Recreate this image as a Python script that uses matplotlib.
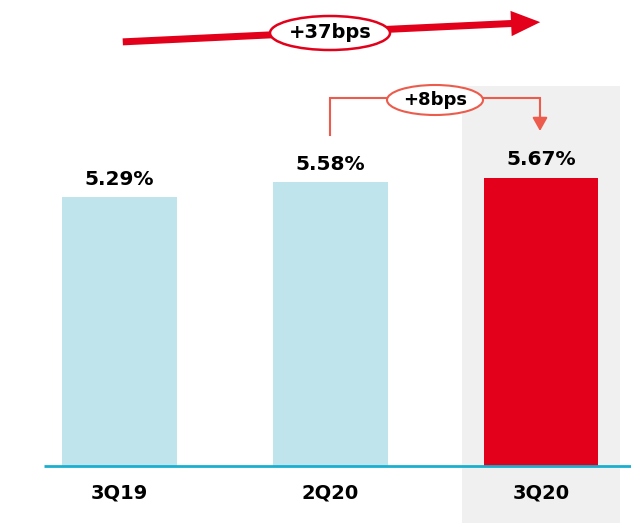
import matplotlib
matplotlib.use("Agg")
import matplotlib.pyplot as plt
from matplotlib.patches import Ellipse, Rectangle, FancyArrowPatch

categories = ["3Q19", "2Q20", "3Q20"]
values = [5.29, 5.58, 5.67]
value_labels = ["5.29%", "5.58%", "5.67%"]
change_total = "+37bps"
change_qoq = "+8bps"

RED = "#E2001A"
BLUE = "#C0E4EC"
GRAY = "#F0F0F0"
LINE = "#1AAFCF"
SALMON = "#EC5B4B"
TXT = "#000000"

fig = plt.figure(figsize=(6.31, 5.23), dpi=100)
ax = fig.add_axes([0, 0, 1, 1])
px_x = 210.75
px_y = 50.85
ax.set_xlim(-119.5 / px_x, 2 + (631 - 541) / px_x)
ax.set_ylim(-(523 - 466) / px_y, 466 / px_y)
ax.axis("off")

def dx(p):
    return (p - 119.5) / px_x

def dy(p):
    return (466 - p) / px_y

# highlight background
ax.add_patch(Rectangle((dx(462), dy(523)), dx(620) - dx(462), dy(86) - dy(523),
                       facecolor=GRAY, edgecolor="none", zorder=0))

x = list(range(len(categories)))
colors = [BLUE, BLUE, RED]
ax.bar(x, values, width=0.545, color=colors, zorder=2)
ax.plot([dx(44), dx(631)], [0, 0], color=LINE, lw=2, zorder=3, solid_capstyle="butt")

for xi, v, lab in zip(x, values, value_labels):
    ax.text(xi, v + 0.35, lab, ha="center", va="center", fontsize=14.5,
            fontweight="bold", color=TXT, zorder=4)
for xi, c in zip(x, categories):
    ax.text(xi, dy(493), c, ha="center", va="center", fontsize=14,
            fontweight="bold", color=TXT, zorder=4)

# top arrow
arr = FancyArrowPatch((dx(120), dy(42)), (dx(543), dy(22)),
                      arrowstyle="simple,head_length=1.5,head_width=1.3,tail_width=0.36",
                      mutation_scale=14, color=RED, lw=0, zorder=3)
ax.add_patch(arr)
ax.add_patch(Ellipse((dx(330), dy(33)), 120 / px_x, 34 / px_y, facecolor="white",
                     edgecolor=RED, lw=1.8, zorder=4))
ax.text(dx(330), dy(33), change_total, ha="center", va="center", fontsize=14,
        fontweight="bold", color=TXT, zorder=5)

# bracket arrow
ax.plot([dx(330), dx(330), dx(540), dx(540)], [dy(135), dy(98), dy(98), dy(118)],
        color=SALMON, lw=1.5, zorder=3, solid_joinstyle="miter")
ax.annotate("", xy=(dx(540), dy(131)), xytext=(dx(540), dy(115)),
            arrowprops=dict(arrowstyle="-|>,head_length=0.8,head_width=0.45",
                            color=SALMON, lw=1.5, shrinkA=0, shrinkB=0), zorder=3)
ax.add_patch(Ellipse((dx(435), dy(100)), 96 / px_x, 30 / px_y, facecolor="white",
                     edgecolor=SALMON, lw=1.5, zorder=4))
ax.text(dx(435), dy(100), change_qoq, ha="center", va="center", fontsize=13,
        fontweight="bold", color=TXT, zorder=5)

fig.savefig("out.png", dpi=100)
